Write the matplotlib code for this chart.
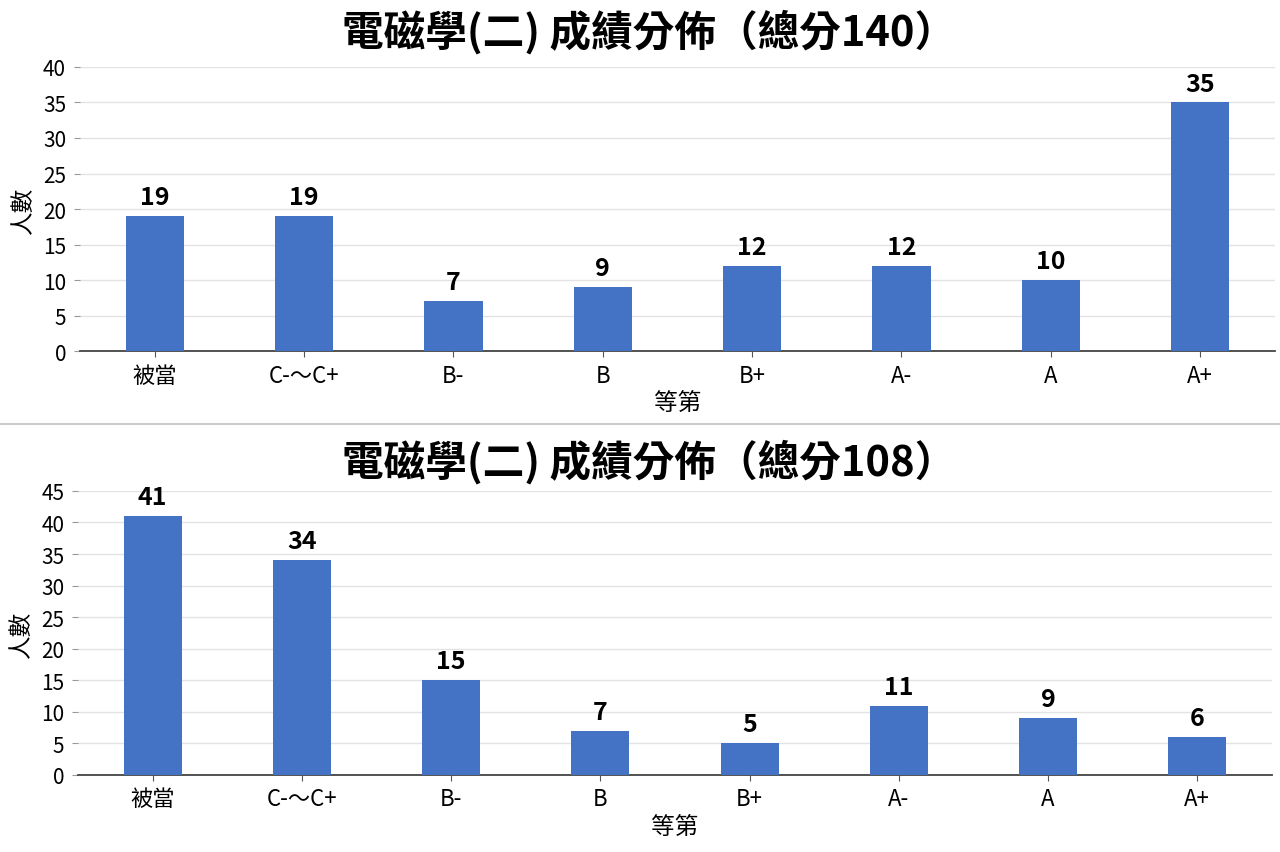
import numpy as np
import matplotlib.pyplot as plt
from matplotlib.lines import Line2D

plt.rcParams['font.family'] = ['Noto Sans CJK TC', 'DejaVu Sans']

grades = ['被當', 'C-～C+', 'B-', 'B', 'B+', 'A-', 'A', 'A+']
counts_140 = [19, 19, 7, 9, 12, 12, 10, 35]
counts_108 = [41, 34, 15, 7, 5, 11, 9, 6]
titles = ['電磁學(二) 成績分佈（總分140）', '電磁學(二) 成績分佈（總分108）']

bar_color = '#4472C4'


def draw(ax, vals, ymax, title, title_y):
    x = np.arange(len(grades))
    ax.bar(x, vals, width=0.39, color=bar_color, zorder=3)
    for xi, v in zip(x, vals):
        ax.annotate(str(v), (xi, v), xytext=(0, 5), textcoords='offset points',
                    ha='center', va='bottom', fontsize=18, fontweight='bold')
    ax.set_xlim(-0.5, len(grades) - 0.5)
    ax.set_ylim(0, ymax)
    ax.set_yticks(np.arange(0, ymax + 1, 5))
    ax.set_xticks(x)
    ax.set_xticklabels(grades)
    ax.tick_params(axis='x', labelsize=16, length=4, color='#555555', pad=5)
    ax.tick_params(axis='y', labelsize=15, length=4, color='#999999', pad=6)
    ax.yaxis.grid(True, color='#e3e3e3', linewidth=1, zorder=0)
    for s in ['top', 'right', 'left']:
        ax.spines[s].set_visible(False)
    ax.spines['bottom'].set_color('#444444')
    ax.spines['bottom'].set_linewidth(1.3)
    ax.set_xlabel('等第', fontsize=17, labelpad=3)
    ax.set_ylabel('人數', fontsize=17, labelpad=6)
    ax.figure.text(0.507, title_y, title, ha='center', va='center',
                   fontsize=30, fontweight='bold')


fig = plt.figure(figsize=(12.8, 8.53), dpi=100)
ax1 = fig.add_axes([0.0625, 0.5873, 0.9335, 0.333])
ax2 = fig.add_axes([0.061, 0.0903, 0.9327, 0.333])

draw(ax1, counts_140, 40, titles[0], 0.9625)
draw(ax2, counts_108, 45, titles[1], 0.4584)

fig.add_artist(Line2D([0, 1], [0.5017, 0.5017], transform=fig.transFigure,
                      color='#cccccc', linewidth=1.5))

fig.savefig('out.png', dpi=100)
